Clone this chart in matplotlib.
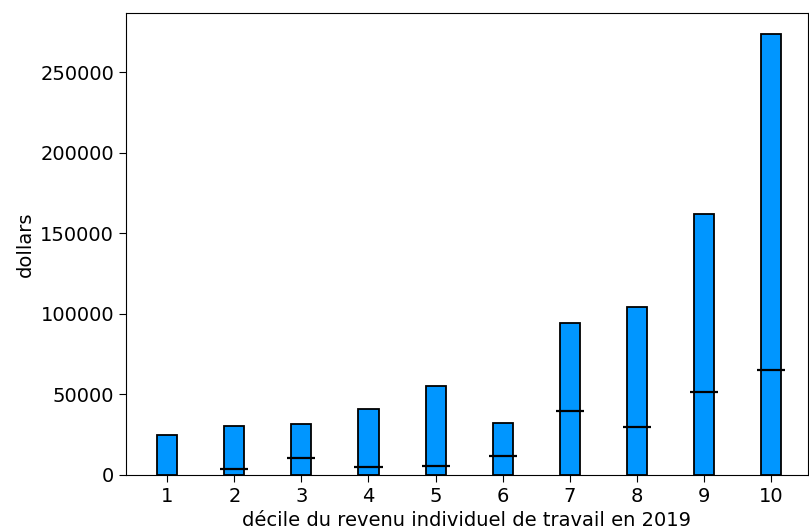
import numpy as np
import matplotlib.pyplot as plt

# deciles and values (dollars)
deciles = [1, 2, 3, 4, 5, 6, 7, 8, 9, 10]
bar_values = [25000, 30500, 31500, 41000, 55500, 32300, 94500, 104000, 162000, 273500]
line_values = [0, 3500, 10300, 5200, 5800, 12000, 40000, 30000, 51200, 65000]

fig = plt.figure(figsize=(8.09, 5.31), dpi=100)
ax = fig.add_axes([0.1557, 0.1055, 0.843, 0.87])

ax.bar(deciles, bar_values, width=0.3, color='#0096ff', edgecolor='black', linewidth=1.3)
x = np.array(deciles)
# second series drawn as short horizontal marks (decile 1 has none)
ax.hlines(line_values[1:], x[1:] - 0.21, x[1:] + 0.21, colors='black', linewidth=1.6)

ax.set_xlim(0.385, 10.55)
ax.set_ylim(0, 286650)
ax.set_xticks(deciles)
ax.tick_params(labelsize=14, length=5)
ax.set_ylabel('dollars', fontsize=14)
ax.set_xlabel('décile du revenu individuel de travail en 2019', fontsize=14)

fig.savefig('out.png', dpi=100)
